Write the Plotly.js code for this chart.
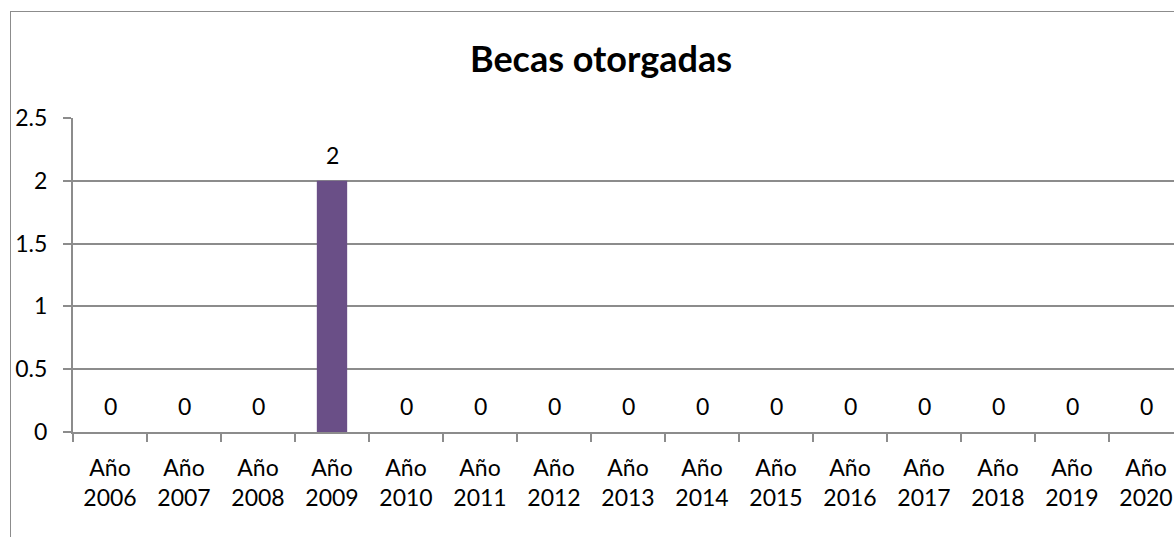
<!DOCTYPE html>
<html><head><meta charset="utf-8">
<script src="https://cdn.plot.ly/plotly-3.0.1.min.js"></script>
<style>
html,body{margin:0;padding:0;overflow:hidden;background:#fff;width:1174px;height:537px;}
#frame{position:absolute;left:10px;top:11px;width:1200px;height:560px;border:1px solid #8c8c8c;box-sizing:border-box;background:#fff;}
#chart{position:absolute;left:0;top:0;}
</style>
</head><body>
<div id="frame"><div id="chart"></div></div>
<script>
const categories = ["Año<br>2006","Año<br>2007","Año<br>2008","Año<br>2009","Año<br>2010","Año<br>2011","Año<br>2012","Año<br>2013","Año<br>2014","Año<br>2015","Año<br>2016","Año<br>2017","Año<br>2018","Año<br>2019","Año<br>2020"];
const values = [0,0,0,2,0,0,0,0,0,0,0,0,0,0,0];
const yTicks = [0,0.5,1,1.5,2,2.5];
const yTickText = ["0","0.5","1","1.5","2","2.5"];

const FONT = "Lato, 'Open Sans', sans-serif";

const trace = {
  type: 'bar',
  x: categories,
  y: values,
  marker: {color: '#6a4f87'},
  hoverinfo: 'none'
};

const annotations = values.map((v, i) => ({
  x: categories[i], y: v, xref: 'x', yref: 'y',
  text: String(v), showarrow: false, yshift: 26,
  font: {family: FONT, size: 23, color: '#000'}
}));

const layout = {
  width: 1198, height: 558,
  margin: {l: 62, r: 26, t: 106, b: 138},
  paper_bgcolor: '#fff', plot_bgcolor: '#fff',
  showlegend: false,
  bargap: 0.59,
  font: {family: FONT, size: 23, color: '#000'},
  title: {text: '<b>Becas otorgadas</b>', font: {family: FONT, size: 36, color: '#000'},
          x: 590/1198, xref: 'container', xanchor: 'center', y: 1 - 47/558, yref: 'container', yanchor: 'middle'},
  xaxis: {
    type: 'category',
    showgrid: false,
    showline: true, linecolor: '#8c8c8c', linewidth: 2,
    ticks: 'outside', ticklen: 8, tickcolor: '#8c8c8c', tickwidth: 2,
    tickson: 'boundaries',
    tickfont: {family: FONT, size: 23, color: '#000'},
    ticklabelstandoff: 14,
    fixedrange: true
  },
  yaxis: {
    range: [0, 2.5],
    tickvals: yTicks, ticktext: yTickText,
    showgrid: true, gridcolor: '#8c8c8c', gridwidth: 2,
    zeroline: false,
    showline: true, linecolor: '#8c8c8c', linewidth: 2,
    ticks: 'outside', ticklen: 8, tickcolor: '#8c8c8c', tickwidth: 2,
    tickfont: {family: FONT, size: 23, color: '#000'},
    ticklabelstandoff: 11,
    fixedrange: true
  },
  annotations: annotations
};

Plotly.newPlot('chart', [trace], layout, {displayModeBar: false, staticPlot: true});
</script>
</body></html>
